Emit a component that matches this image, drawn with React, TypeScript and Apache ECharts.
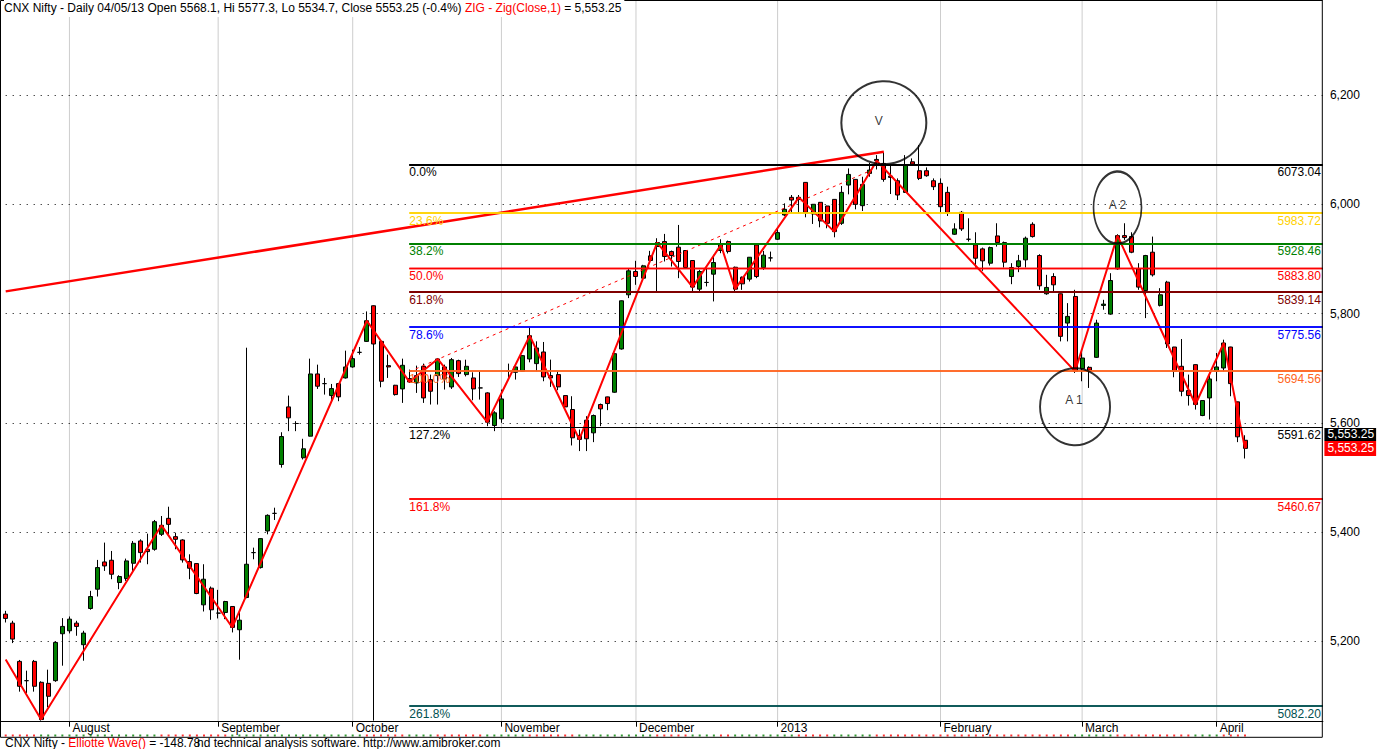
import React, { useEffect, useRef } from "react";
import * as echarts from "echarts";

const FONT = '"Liberation Sans", Arial, Helvetica, sans-serif';

// ---- daily candles (index 0 = 19 Jul 2012 ... index 175 = 05 Apr 2013) ----
const openP = [
  5249.9, 5233.4, 5163.4, 5128.1, 5163.4, 5125.1, 5123.2, 5128.1, 5214.0, 5219.4,
  5233.4, 5193.9, 5260.2, 5295.5, 5345.4, 5348.5, 5307.7, 5315.0, 5343.0, 5383.8,
  5368.6, 5368.6, 5396.0, 5425.2, 5391.7, 5385.6, 5346.0, 5342.4, 5266.9, 5297.4,
  5251.7, 5252.9, 5263.9, 5221.3, 5280.3, 5362.5, 5335.1, 5402.1, 5434.3, 5523.8,
  5629.2, 5598.8, 5536.1, 5575.6, 5689.5, 5671.8, 5649.9, 5671.8, 5682.2, 5702.3,
  5729.0, 5749.1, 5814.3, 5749.1, 5704.7, 5668.8, 5662.1, 5681.0, 5673.0, 5703.5,
  5679.1, 5686.4, 5702.3, 5665.7, 5713.8, 5688.3, 5682.2, 5663.9, 5654.8, 5595.1,
  5607.3, 5694.4, 5692.5, 5694.4, 5716.9, 5708.4, 5729.7, 5686.5, 5688.3, 5649.9,
  5624.4, 5576.9, 5604.9, 5581.7, 5633.5, 5647.5, 5656.0, 5735.2, 5834.4, 5877.0,
  5864.8, 5905.6, 5922.7, 5931.8, 5913.5, 5921.5, 5915.4, 5897.1, 5844.7, 5857.0,
  5872.1, 5915.4, 5931.8, 5884.8, 5866.6, 5863.0, 5925.6, 5884.2, 5901.9, 5936.0,
  5980.4, 6012.7, 6009.0, 6040.1, 5982.3, 6003.6, 5996.9, 6009.0, 5965.2, 6035.2,
  6045.6, 5997.5, 6056.5, 6082.1, 6074.8, 6051.6, 6043.1, 6021.8, 6077.8, 6061.4,
  6061.4, 6043.1, 6038.3, 6021.8, 5945.2, 5985.3, 5936.0, 5925.7, 5918.4, 5892.2,
  5942.1, 5929.9, 5867.8, 5886.1, 5898.3, 5963.4, 5906.2, 5836.2, 5867.8, 5836.2,
  5782.6, 5831.3, 5699.2, 5701.6, 5719.9, 5814.9, 5799.0, 5881.8, 5942.7, 5940.9,
  5881.8, 5842.3, 5912.3, 5814.9, 5857.5, 5738.8, 5703.5, 5659.0, 5706.5, 5613.4,
  5645.6, 5694.4, 5700.4, 5738.8, 5638.4, 5568.1,
];
const closeP = [
  5242.0, 5204.2, 5117.8, 5128.1, 5117.8, 5056.9, 5099.5, 5198.1, 5227.4, 5240.7,
  5227.4, 5215.2, 5282.1, 5335.1, 5338.1, 5322.9, 5318.7, 5347.3, 5379.5, 5362.5,
  5364.3, 5419.1, 5412.4, 5414.2, 5386.8, 5349.1, 5333.9, 5287.6, 5313.8, 5257.8,
  5251.7, 5273.0, 5225.5, 5238.8, 5341.2, 5362.5, 5388.1, 5430.7, 5434.3, 5574.9,
  5609.1, 5598.8, 5552.5, 5689.5, 5667.0, 5671.8, 5662.7, 5647.5, 5702.3, 5717.5,
  5729.0, 5786.9, 5744.3, 5676.1, 5702.3, 5651.7, 5705.3, 5674.9, 5686.4, 5645.6,
  5657.8, 5716.9, 5680.3, 5715.6, 5690.1, 5703.5, 5662.1, 5663.9, 5601.2, 5618.3,
  5643.8, 5694.4, 5702.3, 5723.0, 5759.5, 5737.0, 5684.0, 5682.2, 5665.8, 5629.2,
  5572.6, 5569.6, 5570.8, 5613.4, 5625.6, 5635.3, 5726.6, 5823.4, 5878.2, 5867.9,
  5887.4, 5897.1, 5930.0, 5904.4, 5906.2, 5895.3, 5884.3, 5848.4, 5877.0, 5857.0,
  5893.4, 5925.7, 5913.5, 5844.7, 5854.4, 5903.1, 5867.8, 5906.8, 5901.9, 5948.2,
  5990.8, 6007.8, 6012.7, 5985.3, 6000.0, 5969.5, 5965.2, 5950.0, 6021.8, 6054.7,
  5999.9, 6036.4, 6062.6, 6079.7, 6045.6, 6049.2, 6017.0, 6071.7, 6073.6, 6047.4,
  6052.3, 6032.2, 5995.6, 5985.3, 5954.9, 5954.9, 5936.0, 5901.3, 5896.5, 5920.8,
  5929.9, 5894.0, 5884.3, 5896.5, 5937.9, 5940.9, 5850.8, 5847.8, 5852.6, 5758.3,
  5794.8, 5694.3, 5718.7, 5696.2, 5782.6, 5817.3, 5860.5, 5942.7, 5939.1, 5912.3,
  5848.4, 5906.2, 5870.9, 5834.4, 5744.3, 5694.3, 5657.8, 5649.9, 5633.5, 5640.8,
  5680.3, 5702.3, 5746.1, 5671.8, 5574.4, 5553.25,
];
const lowP = [
  5234.6, 5196.9, 5108.0, 5105.6, 5108.0, 5055.0, 5079.4, 5126.0, 5155.5, 5214.6,
  5210.3, 5164.6, 5258.0, 5282.1, 5329.0, 5313.8, 5295.5, 5310.8, 5329.0, 5344.2,
  5341.2, 5366.0, 5392.9, 5396.0, 5368.6, 5344.2, 5313.8, 5286.4, 5254.7, 5239.5,
  5242.0, 5240.7, 5216.4, 5166.5, 5279.0, 5350.3, 5333.3, 5396.0, 5422.2, 5518.0,
  5584.8, 5584.8, 5533.0, 5575.0, 5662.1, 5651.7, 5636.5, 5639.6, 5681.0, 5701.0,
  5724.8, 5748.0, 5055.0, 5665.1, 5682.2, 5649.9, 5636.5, 5673.0, 5654.8, 5636.5,
  5633.5, 5633.5, 5661.0, 5662.0, 5684.0, 5685.0, 5641.4, 5642.6, 5593.9, 5584.8,
  5600.0, 5682.2, 5679.2, 5694.0, 5710.8, 5694.4, 5676.1, 5665.8, 5659.7, 5627.4,
  5558.6, 5548.3, 5548.3, 5564.7, 5593.9, 5623.2, 5655.0, 5734.0, 5828.3, 5852.6,
  5863.0, 5895.3, 5840.5, 5895.3, 5886.1, 5864.8, 5883.1, 5840.5, 5840.5, 5849.6,
  5822.2, 5910.5, 5910.0, 5840.4, 5843.4, 5858.7, 5864.8, 5880.0, 5895.2, 5934.8,
  5978.6, 5984.7, 5983.5, 5976.2, 5964.0, 5957.9, 5956.1, 5939.6, 5962.2, 6018.2,
  5990.8, 5987.7, 6050.4, 6063.8, 6041.3, 6018.8, 6007.8, 6021.0, 6072.0, 6044.4,
  6050.4, 6026.1, 5983.5, 5978.6, 5944.0, 5951.2, 5931.8, 5884.3, 5878.2, 5887.9,
  5922.6, 5884.3, 5853.8, 5875.8, 5884.3, 5939.1, 5843.5, 5834.4, 5840.4, 5749.1,
  5749.1, 5691.3, 5676.1, 5663.9, 5718.7, 5807.0, 5797.8, 5880.0, 5934.8, 5910.5,
  5843.5, 5791.7, 5867.8, 5813.0, 5737.0, 5683.4, 5648.7, 5631.6, 5624.3, 5612.2,
  5606.1, 5676.1, 5694.4, 5648.7, 5564.7, 5534.7,
];
const highP = [
  5255.9, 5237.7, 5166.0, 5146.4, 5166.0, 5127.0, 5148.2, 5200.0, 5242.6, 5245.6,
  5237.7, 5219.4, 5292.5, 5349.1, 5380.8, 5365.5, 5321.1, 5351.5, 5383.8, 5386.8,
  5397.2, 5422.2, 5429.5, 5446.5, 5399.0, 5387.0, 5359.4, 5343.0, 5341.2, 5300.4,
  5294.3, 5274.2, 5264.0, 5255.9, 5737.5, 5371.6, 5389.0, 5432.5, 5444.7, 5582.8,
  5649.9, 5603.0, 5570.8, 5717.5, 5706.5, 5682.2, 5671.2, 5672.0, 5732.1, 5733.9,
  5738.8, 5803.9, 5815.0, 5750.0, 5724.8, 5669.5, 5717.5, 5697.4, 5704.7, 5708.4,
  5688.3, 5718.7, 5706.5, 5718.7, 5715.6, 5715.6, 5692.5, 5694.4, 5656.0, 5621.3,
  5660.9, 5708.4, 5703.0, 5724.0, 5774.7, 5749.2, 5748.0, 5715.7, 5694.4, 5650.5,
  5648.7, 5587.8, 5612.2, 5615.2, 5635.3, 5648.0, 5727.0, 5824.0, 5883.1, 5896.5,
  5889.2, 5914.8, 5937.9, 5945.8, 5915.4, 5962.2, 5916.0, 5897.5, 5880.0, 5883.1,
  5907.5, 5936.0, 5933.6, 5886.0, 5867.8, 5903.5, 5926.0, 5914.7, 5913.4, 5957.9,
  6001.7, 6017.0, 6017.0, 6040.5, 6000.5, 6004.0, 5997.3, 6009.4, 6033.4, 6065.7,
  6046.0, 6050.4, 6076.0, 6090.0, 6096.0, 6071.7, 6047.4, 6090.0, 6084.0, 6108.3,
  6067.5, 6047.4, 6047.4, 6032.2, 5965.3, 5987.8, 5974.4, 5948.8, 5920.8, 5922.6,
  5965.3, 5931.8, 5892.2, 5907.4, 5940.9, 5967.1, 5908.6, 5870.9, 5873.9, 5836.5,
  5819.1, 5843.5, 5730.9, 5703.5, 5788.7, 5825.2, 5873.9, 5945.2, 5965.3, 5948.8,
  5892.2, 5907.4, 5940.9, 5846.5, 5859.9, 5739.0, 5753.4, 5688.3, 5707.0, 5641.0,
  5688.3, 5727.8, 5752.2, 5739.2, 5638.8, 5577.3,
];

// month start bars and their labels
const monthIdx = [9, 30, 49, 70, 89, 109, 132, 152, 171];
const monthNames = ["August", "September", "October", "November", "December", "2013", "February", "March", "April"];

// ZIG(Close,1) pivots
const zigIdx = [0, 5, 22, 32, 51, 57, 61, 68, 74, 81, 92, 97, 101, 103, 112, 117, 123, 151, 157, 168, 172, 175];
const zigVal = [5167, 5056.9, 5412.4, 5225.5, 5786.9, 5674.9, 5716.9, 5601.2, 5759.5, 5569.6, 5930.0, 5848.4,
  5925.7, 5844.7, 6012.7, 5950.0, 6079.7, 5694.3, 5942.7, 5633.5, 5746.1, 5553.25];

// Fibonacci levels
const fibPct = ["0.0%", "23.6%", "38.2%", "50.0%", "61.8%", "78.6%", "100.0%", "127.2%", "161.8%", "261.8%"];
const fibVal = [6073.04, 5983.72, 5928.46, 5883.8, 5839.14, 5775.56, 5694.56, 5591.62, 5460.67, 5082.2];
const fibStartIdx = 57;

// hand-drawn lines
const trendIdx = [0, 124];
const trendVal = [5840.6, 6096.3];
const dashIdx = [57, 122];
const dashVal = [5693.6, 6061.0];

// Elliott wave circles
const waveText = ["V", "A 2", "A 1"];
const waveIdx = [124, 157, 151];
const waveVal = [6149.2, 5994.1, 5629.5];

const N_CATS = 187;
const Y_MIN = 5053;
const Y_MAX = 6373;

function buildOption(): any {
  const categories = Array.from({ length: N_CATS }, (_, i) => String(i));
  const monthSet = new Set(monthIdx);
  const candleData = openP.map((o, i) => [o, closeP[i], lowP[i], highP[i]]);
  const zigData = openP.map((_, i) => {
    const k = zigIdx.indexOf(i);
    return k >= 0 ? zigVal[k] : null;
  });
  const rising = (i: number) => {
    for (let k = 0; k < zigIdx.length - 1; k++) {
      if (i >= zigIdx[k] && i < zigIdx[k + 1]) return zigVal[k + 1] > zigVal[k];
    }
    return zigVal[zigVal.length - 1] > zigVal[zigVal.length - 2];
  };

  const fibColors = ["#000000", "#FFD200", "#008000", "#FF0000", "#800000", "#0000FF", "#FF6420", "#000000", "#FF0000", "#005050"];
  const fibWidths = [2, 1.5, 2.2, 1.3, 2.2, 1.5, 1.5, 1.2, 1.5, 1.5];
  const gridStyle = { color: "#000000", width: 1, type: [1, 6] };

  const markLines: any[] = [];
  fibVal.forEach((v, k) => {
    const ls = { color: fibColors[k], width: fibWidths[k], type: "solid" };
    markLines.push([
      {
        coord: [fibStartIdx, v],
        lineStyle: ls,
        label: { show: true, position: "insideStartBottom", formatter: fibPct[k], color: fibColors[k], distance: [0, 2] },
      },
      { coord: [N_CATS - 1, v] },
    ]);
    markLines.push([
      {
        coord: [fibStartIdx, v],
        lineStyle: ls,
        label: { show: true, position: "insideEndBottom", formatter: v.toFixed(2), color: fibColors[k], distance: [2, 2] },
      },
      { coord: [N_CATS - 1, v] },
    ]);
  });

  const last = closeP.length - 1;
  const lastClose = closeP[last];
  const fmtPrice = (v: number) => v.toLocaleString("en-US", { minimumFractionDigits: 2, maximumFractionDigits: 2 });
  const chg = ((closeP[last] / closeP[last - 1] - 1) * 100).toFixed(1);

  const titleMain = `CNX Nifty - Daily 04/05/13 Open ${openP[last]}, Hi ${highP[last]}, Lo ${lowP[last]}, Close ${lastClose} (${chg}%) `;

  const labelOffsets = [[-5, -2], [0, -2.5], [-1, -7]];
  const waveSizes = [[85, 83], [48, 72], [70, 77]];

  // one small series per month start: a vertical dotted grid line
  const monthGridSeries = monthIdx.map((i) => ({
    type: "line",
    name: "grid" + i,
    data: [[i, Y_MAX], [i, Y_MIN]],
    showSymbol: false,
    symbol: "none",
    silent: true,
    z: 1,
    lineStyle: { color: "#000000", width: 1, type: "dotted", opacity: 0.4 },
  }));

  return {
    animation: false,
    backgroundColor: "#ffffff",
    textStyle: { fontFamily: FONT },
    grid: [
      { left: 5.7, right: 60.1, top: 0.5, bottom: 27.3, containLabel: false },
      { left: 5.7, right: 60.1, top: 734.5, height: 2, containLabel: false },
    ],
    xAxis: [
      {
        type: "category",
        gridIndex: 0,
        data: categories,
        boundaryGap: false,
        axisLine: { show: true, lineStyle: { color: "#000", width: 1 } },
        axisTick: {
          show: true,
          interval: (i: number) => monthSet.has(i),
          length: 5,
          lineStyle: { color: "#000", width: 1 },
        },
        axisLabel: {
          interval: (i: number) => monthSet.has(i),
          formatter: (val: string) => {
            const k = monthIdx.indexOf(Number(val));
            return k >= 0 ? monthNames[k] : "";
          },
          align: "left",
          verticalAlign: "middle",
          padding: [0, 0, 0, 3],
          margin: 6,
          color: "#000",
          fontSize: 12,
          fontFamily: FONT,
        },
        splitLine: { show: false },
      },
      { type: "category", gridIndex: 1, data: categories, boundaryGap: false, show: false },
    ],
    yAxis: [
      {
        type: "value",
        gridIndex: 0,
        position: "right",
        min: Y_MIN,
        max: Y_MAX,
        splitNumber: 6,
        axisLine: { show: false },
        axisTick: { show: false },
        axisLabel: {
          margin: 7,
          color: "#000",
          fontSize: 12,
          fontFamily: FONT,
          showMinLabel: false,
          showMaxLabel: false,
          formatter: (v: number) => v.toLocaleString("en-US"),
        },
        splitLine: { show: true, lineStyle: gridStyle },
      },
      { type: "value", gridIndex: 1, min: 0, max: 1, show: false },
    ],
    series: [
      ...monthGridSeries,
      {
        type: "candlestick",
        xAxisIndex: 0,
        yAxisIndex: 0,
        data: candleData,
        barWidth: 4.5,
        silent: true,
        z: 2,
        itemStyle: {
          color: "#008000",
          color0: "#FF0000",
          borderColor: "#000000",
          borderColor0: "#000000",
          borderColorDoji: "#000000",
          borderWidth: 1,
        },
        markLine: {
          silent: true,
          animation: false,
          symbol: ["none", "none"],
          z: 5,
          label: { show: false, fontSize: 12, fontFamily: FONT },
          data: markLines,
        },
        markPoint: {
          silent: true,
          animation: false,
          symbol: "rect",
          symbolSize: 1,
          itemStyle: { color: "rgba(0,0,0,0)" },
          data: [
            {
              coord: [N_CATS - 1, lastClose],
              label: {
                show: true, position: "right", distance: 1, formatter: fmtPrice(lastClose),
                color: "#ffffff", backgroundColor: "#FF0000", padding: [2, 2, 1, 3], fontSize: 12, fontFamily: FONT,
              },
            },
            {
              coord: [N_CATS - 1, lastClose],
              label: {
                show: true, position: "right", distance: 1, offset: [0, -14], formatter: fmtPrice(lastClose),
                color: "#ffffff", backgroundColor: "#000000", padding: [1, 2, 0, 3], fontSize: 12, fontFamily: FONT,
              },
            },
          ],
        },
      },
      {
        type: "line",
        name: "trend",
        data: trendIdx.map((x, k) => [x, trendVal[k]]),
        showSymbol: false,
        symbol: "none",
        silent: true,
        z: 3,
        lineStyle: { color: "#FF0000", width: 2.5 },
      },
      {
        type: "line",
        name: "dash",
        data: dashIdx.map((x, k) => [x, dashVal[k]]),
        showSymbol: false,
        symbol: "none",
        silent: true,
        z: 3,
        lineStyle: { color: "#FF0000", width: 1, type: [3, 4] },
      },
      {
        type: "line",
        name: "zig",
        data: zigData,
        connectNulls: true,
        showSymbol: false,
        symbol: "none",
        silent: true,
        z: 4,
        lineStyle: { color: "#FF0000", width: 2 },
      },
      {
        type: "scatter",
        name: "waves",
        silent: true,
        z: 6,
        data: waveText.map((t, k) => ({
          value: [waveIdx[k], waveVal[k]],
          symbolSize: waveSizes[k],
          label: { offset: labelOffsets[k] },
        })),
        symbol: "circle",
        itemStyle: { color: "rgba(0,0,0,0)", borderColor: "#000000", borderWidth: 2 },
        label: {
          show: true,
          position: "inside",
          color: "#000",
          fontSize: 12,
          fontFamily: FONT,
          formatter: (p: any) => waveText[p.dataIndex],
        },
      },
      {
        type: "scatter",
        name: "strip",
        xAxisIndex: 1,
        yAxisIndex: 1,
        silent: true,
        symbol: "rect",
        symbolSize: 2,
        data: closeP.map((_, i) => ({
          value: [i, 0.5],
          itemStyle: { color: rising(i) ? "#008000" : "#FF0000" },
        })),
      },
    ],
    graphic: [
      {
        type: "rect",
        z: 50,
        silent: true,
        shape: { x: 0.5, y: 0.5, width: 1321.8, height: 736.8 },
        style: { fill: "none", stroke: "#000", lineWidth: 1 },
      },
      {
        type: "line",
        z: 50,
        silent: true,
        shape: { x1: 0.5, y1: 721.5, x2: 1322.3, y2: 721.5 },
        style: { stroke: "#000", lineWidth: 1 },
      },
      {
        type: "text",
        z: 100,
        silent: true,
        x: 4,
        y: 8,
        style: {
          text: `{k|${titleMain}}{r|ZIG - Zig(Close,1)}{k| = ${fmtPrice(lastClose)}}`,
          rich: {
            k: { fill: "#000", fontSize: 12, fontFamily: FONT },
            r: { fill: "#FF0000", fontSize: 12, fontFamily: FONT },
          },
          verticalAlign: "middle",
          backgroundColor: "#ffffff",
          padding: [3, 3, 3, 0],
        },
      },
      {
        type: "text",
        z: 100,
        silent: true,
        x: 5,
        y: 742.5,
        style: {
          text: "{k|CNX Nifty - }{r|Elliotte Wave()}{k| = -148.78}",
          rich: {
            k: { fill: "#000", fontSize: 12, fontFamily: FONT },
            r: { fill: "#FF0000", fontSize: 12, fontFamily: FONT },
          },
          verticalAlign: "middle",
        },
      },
      {
        type: "text",
        z: 100,
        silent: true,
        x: 197,
        y: 742.5,
        style: {
          text: "nd technical analysis software. http://www.amibroker.com",
          fill: "#000",
          fontSize: 12,
          fontFamily: FONT,
          verticalAlign: "middle",
        },
      },
    ],
  };
}

export default function App() {
  const ref = useRef<HTMLDivElement>(null);
  useEffect(() => {
    document.body.style.margin = "0";
    document.body.style.background = "#ffffff";
    const chart = echarts.init(ref.current as HTMLDivElement, null, { renderer: "svg" });
    chart.setOption(buildOption());
    return () => chart.dispose();
  }, []);
  return <div ref={ref} style={{ width: 1383, height: 749, background: "#ffffff" }} />;
}
